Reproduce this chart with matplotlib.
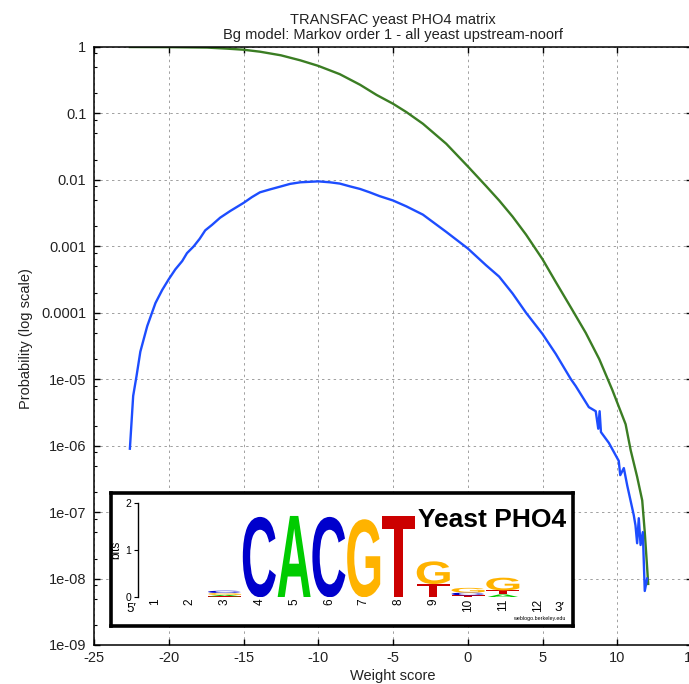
import matplotlib
matplotlib.use("Agg")
import matplotlib.pyplot as plt
from matplotlib.ticker import FixedLocator, FixedFormatter, LogLocator, NullFormatter
from matplotlib.textpath import TextPath
from matplotlib.patches import PathPatch
from matplotlib.font_manager import FontProperties
from matplotlib.transforms import Affine2D

plt.rcParams["font.family"] = ["Liberation Sans", "DejaVu Sans"]

# cumulative probability P(score >= x)
green_x = [-22.6, -20.0, -17.44, -16.1, -15.0, -13.9, -12.5, -11.2, -10.0, -8.56, -7.2, -6.1,
           -5.0, -4.11, -3.0, -1.44, 0.0, 1.22, 2.1, 3.0, 3.9, 5.0, 5.89, 6.9, 7.89, 8.8,
           9.67, 10.56, 10.9, 11.33, 11.67, 11.84, 12.0, 12.07]
green_y = [1.0, 0.995, 0.98, 0.945, 0.91, 0.85, 0.75, 0.63, 0.52, 0.39, 0.27, 0.19,
           0.14, 0.105, 0.07, 0.035, 0.016, 0.0081, 0.0049, 0.0028, 0.0015, 0.00064, 0.00029,
           0.00012, 5.0e-5, 2.0e-5, 6.9e-6, 2.1e-6, 8.5e-7, 3.4e-7, 1.5e-7, 5.0e-8, 1.45e-8,
           8.3e-9]

# probability density of the weight score
blue_x = [-22.6, -22.38, -22.16, -21.9, -21.44, -20.89, -20.44, -20.0, -19.56, -19.1, -18.78,
          -18.33, -17.93, -17.56, -17.11, -16.56, -15.89, -15.0, -14.44, -13.9, -13.22, -12.56,
          -11.89, -11.2, -10.0, -9.22, -8.56, -7.89, -7.2, -6.56, -5.9, -5.0, -4.11, -3.0,
          -1.44, 0.0, 1.22, 2.1, 3.0, 3.9, 5.0, 5.89, 6.9, 7.22, 8.1, 8.56, 8.73, 8.82, 8.91,
          9.44, 10.1, 10.2, 10.44, 10.67, 11.1, 11.22, 11.33, 11.44, 11.56, 11.71, 11.84, 12.0]
blue_y = [9.0e-7, 5.6e-6, 1.1e-5, 2.6e-5, 6.3e-5, 1.4e-4, 2.2e-4, 3.2e-4, 4.5e-4, 6.0e-4, 7.9e-4,
          1.0e-3, 1.3e-3, 1.74e-3, 2.1e-3, 2.7e-3, 3.4e-3, 4.5e-3, 5.5e-3, 6.5e-3, 7.2e-3, 7.9e-3,
          8.7e-3, 9.2e-3, 9.5e-3, 9.2e-3, 8.8e-3, 8.0e-3, 7.3e-3, 6.5e-3, 5.7e-3, 4.9e-3, 4.0e-3,
          3.0e-3, 1.65e-3, 9.3e-4, 5.2e-4, 3.5e-4, 1.95e-4, 1.0e-4, 4.8e-5, 2.4e-5, 1.0e-5, 7.9e-6,
          3.8e-6, 3.3e-6, 1.8e-6, 3.3e-6, 1.6e-6, 1.1e-6, 5.9e-7, 3.6e-7, 4.6e-7, 2.5e-7, 9.1e-8,
          6.3e-8, 3.4e-8, 8.1e-8, 3.2e-8, 5.0e-8, 6.5e-9, 1.0e-8]

xtick_vals = [-25, -20, -15, -10, -5, 0, 5, 10, 15]
xtick_labels = ["-25", "-20", "-15", "-10", "-5", "0", "5", "10", "15"]
ytick_vals = [1e-9, 1e-8, 1e-7, 1e-6, 1e-5, 1e-4, 1e-3, 1e-2, 1e-1, 1]
ytick_labels = ["1e-09", "1e-08", "1e-07", "1e-06", "1e-05", "0.0001", "0.001", "0.01", "0.1", "1"]

# sequence logo (bits per letter at each position)
logo_pos = list(range(1, 13))
logo_A = [0, 0, 0.03, 0, 1.72, 0, 0, 0, 0, 0.0, 0.06, 0]
logo_C = [0, 0, 0.05, 1.70, 0, 1.70, 0, 0, 0, 0.06, 0, 0]
logo_G = [0, 0, 0.04, 0, 0, 0, 1.65, 0, 0.48, 0.10, 0.27, 0]
logo_T = [0, 0, 0.02, 0, 0, 0, 0, 1.72, 0.28, 0.04, 0.085, 0]
logo_colors = {"A": "#00cc00", "C": "#0000cc", "G": "#ffb300", "T": "#cc0000"}

W, H = 689, 684
fig = plt.figure(figsize=(W / 100, H / 100), dpi=100)
ax = fig.add_axes([94 / W, 1 - 645 / H, (692 - 94) / W, (645 - 47) / H])

ax.plot(green_x, green_y, color="#3b7d23", lw=1.7)
ax.plot(blue_x, blue_y, color="#1d4dff", lw=1.7)

ax.set_yscale("log")
ax.set_xlim(-25, 15)
ax.set_ylim(1e-9, 1)
ax.xaxis.set_major_locator(FixedLocator(xtick_vals))
ax.xaxis.set_major_formatter(FixedFormatter(xtick_labels))
ax.yaxis.set_major_locator(FixedLocator(ytick_vals))
ax.yaxis.set_major_formatter(FixedFormatter(ytick_labels))
ax.yaxis.set_minor_locator(LogLocator(base=10, subs=(2, 5, 8), numticks=20))
ax.yaxis.set_minor_formatter(NullFormatter())

ax.grid(True, which="major", color="#a0a0a0", lw=0.7, linestyle=(0, (2.5, 3.5)))
ax.tick_params(which="both", direction="in", top=True, right=True, colors="black",
               labelcolor="#222222", labelsize=10.5)
ax.tick_params(which="major", length=4.5, width=1)
ax.tick_params(which="minor", length=2.5, width=0.8)
ax.tick_params(axis="x", pad=4.5)
ax.tick_params(axis="y", pad=5.5)
for s in ax.spines.values():
    s.set_linewidth(1.1)

ax.set_title("TRANSFAC yeast PHO4 matrix\nBg model: Markov order 1 - all yeast upstream-noorf",
             fontsize=10.5, color="#222222", pad=6, linespacing=1.1)
ax.set_xlabel("Weight score", fontsize=10.5, color="#222222")
ax.set_ylabel("Probability (log scale)", fontsize=10.5, color="#222222")
ax.xaxis.set_label_coords(0.5, -0.040)
ax.yaxis.set_label_coords(-0.102, 0.513)

# logo inset: frame
box = fig.add_axes([111 / W, 1 - 626 / H, (573 - 111) / W, (626 - 493) / H])
box.set_facecolor("white")
box.set_xticks([])
box.set_yticks([])
for s in box.spines.values():
    s.set_linewidth(2.6)

# logo inset: letters
lg = fig.add_axes([137.6 / W, 1 - 597.3 / H, (555 - 137.6) / W, 94.6 / H])
lg.set_facecolor("none")
lg.set_xlim(0.5, 12.5)
lg.set_ylim(0, 2)
for k in ["top", "right", "bottom"]:
    lg.spines[k].set_visible(False)
lg.spines["left"].set_linewidth(1)
lg.set_xticks([])
lg.set_yticks([0, 1, 2])
lg.set_yticklabels(["0", "1", "2"])
lg.tick_params(axis="y", length=3, pad=1.5, labelsize=7.5)
lg.set_ylabel("bits", fontsize=8.5)
lg.yaxis.set_label_coords(-0.036, 0.5)

fp = FontProperties(family="Liberation Sans", weight="bold")


def draw_letter(ch, x, y, w, h, color):
    tp = TextPath((0, 0), ch, size=1, prop=fp)
    bb = tp.get_extents()
    t = Affine2D().translate(-bb.x0, -bb.y0).scale(w / bb.width, h / bb.height).translate(x, y)
    lg.add_patch(PathPatch(t.transform_path(tp), facecolor=color, edgecolor="none"))


for i, p in enumerate(logo_pos):
    stack = [("A", logo_A[i]), ("C", logo_C[i]), ("G", logo_G[i]), ("T", logo_T[i])]
    stack = sorted([s for s in stack if s[1] > 0], key=lambda s: s[1])
    base = 0
    for ch, hgt in stack:
        draw_letter(ch, p - 0.475, base, 0.95, hgt, logo_colors[ch])
        base += hgt
    lg.text(p, -0.03, str(p), rotation=90, ha="center", va="top", fontsize=8.5)

lg.text(0.33, -0.25, "5\u2032", ha="center", va="center", fontsize=9.5)
lg.text(12.64, -0.23, "3\u2032", ha="center", va="center", fontsize=9.5)
lg.text(12.04, -0.44, "weblogo.berkeley.edu", ha="center", va="center", fontsize=3.9)

fig.text(418 / W, 1 - 527 / H, "Yeast PHO4", fontsize=19, fontweight="bold",
         ha="left", va="baseline")

fig.savefig("out.png", dpi=100)
